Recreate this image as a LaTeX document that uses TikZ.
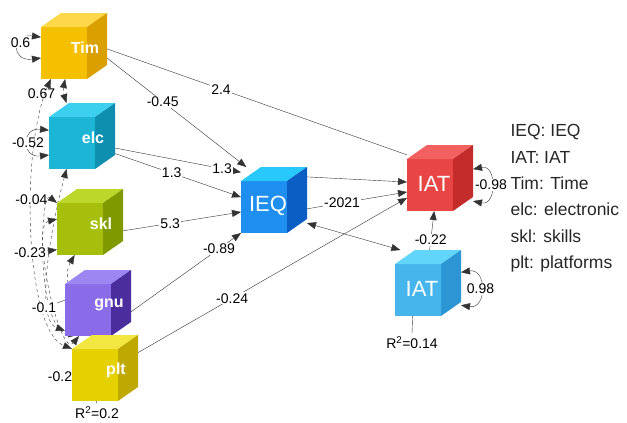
\documentclass[tikz,border=0pt]{standalone}
\usepackage{fontspec}
\setmainfont{Liberation Sans}
\usetikzlibrary{arrows.meta}

% cube colours: F = front, T = top, S = side
\definecolor{Ftim}{HTML}{F5C000}\definecolor{Ttim}{HTML}{FFD84A}\definecolor{Stim}{HTML}{D9A000}
\definecolor{Felc}{HTML}{1CB5D6}\definecolor{Telc}{HTML}{3DD0EE}\definecolor{Selc}{HTML}{0E8FB0}
\definecolor{Fskl}{HTML}{A6BF0C}\definecolor{Tskl}{HTML}{BCD62A}\definecolor{Sskl}{HTML}{7F9A00}
\definecolor{Fgnu}{HTML}{8A6CE8}\definecolor{Tgnu}{HTML}{9C86F2}\definecolor{Sgnu}{HTML}{4B2D9E}
\definecolor{Fplt}{HTML}{E5D000}\definecolor{Tplt}{HTML}{F2E640}\definecolor{Splt}{HTML}{BFA800}
\definecolor{Fieq}{HTML}{1E8EEF}\definecolor{Tieq}{HTML}{28C8FA}\definecolor{Sieq}{HTML}{0B5EC4}
\definecolor{Fiat}{HTML}{E84545}\definecolor{Tiat}{HTML}{F26060}\definecolor{Siat}{HTML}{C42B2B}
\definecolor{Fiatb}{HTML}{45B5EC}\definecolor{Tiatb}{HTML}{62D6FA}\definecolor{Siatb}{HTML}{2C96D4}

\begin{document}
\begin{tikzpicture}[x=1pt, y=1pt,
        font=\fontsize{14}{16}\selectfont,
        cube/.style={minimum width=66pt, minimum height=66pt, inner sep=0pt, outer sep=0pt},
        smalltext/.style={text=white, font=\fontsize{16}{18}\selectfont\bfseries},
        bigtext/.style={text=white, font=\fontsize{22}{24}\selectfont},
        reg/.style={-{Triangle[length=9pt,width=7pt]}, draw=black!80, thin},
        line/.style={draw=black!80, thin},
        cov/.style={{Triangle[length=9pt,width=7pt]}-{Triangle[length=9pt,width=7pt]}, draw=black!80, dashed, thin},
        var/.style={{Triangle[length=9pt,width=7pt]}-{Triangle[length=9pt,width=7pt]}, draw=black!80, thin},
        coef/.style={fill=white, inner sep=1pt}
    ]

    \useasboundingbox (0,0) rectangle (627,-423);

    % cube positions
    \foreach \n/\p in {tim/{74,-46}, elc/{82,-136}, skl/{90,-222}, gnu/{98,-303},
                       plt/{105,-368}, ieq/{274,-200}, iat/{440,-178}, iatb/{428,-283}}
        \node[cube] (\n) at (\p) {};

    % regressions
    \draw[reg] (tim.-20) -- node[coef,pos=0.4] {-0.45} (ieq.130);
    \draw[line] (tim.-5) -- node[coef,pos=0.38] {2.4} (iat.145);
    \draw[reg] (elc.-20) -- node[coef,pos=0.85] {1.3} (ieq.140);
    \draw[reg] (elc.-28) -- node[coef,pos=0.45] {1.3} (ieq.175);
    \draw[reg] (skl.-15) -- node[coef,pos=0.4] {5.3} (ieq.-160);
    \draw[reg] (gnu.-15) -- node[coef,pos=0.8] {-0.89} (ieq.-135);
    \draw[reg] (plt.25) -- node[coef,pos=0.35] {-0.24} (iat.-149);
    \draw[reg] (ieq.35) -- (iat.-173);
    \draw[reg] (ieq.-15) -- node[coef,pos=0.35] {-2021} (iat.-157);
    \draw[cov, solid] (ieq.-35) -- (iatb.130);
    \draw[reg] ([yshift=-14pt]iatb.north) -- node[coef,pos=0.45] {-0.22} (iat.-100);

    % variances
    \draw[var] (tim.165) .. controls +(-30,4) and +(-30,-4) .. node[coef,pos=0.35] {0.6} (tim.-160);
    \draw[var] (elc.170) .. controls +(-28,3) and +(-28,-3) .. node[coef,pos=0.5] {-0.52} (elc.-150);
    \draw[var] (iat.15) .. controls +(24,5) and +(24,-5) .. node[coef,pos=0.5] {-0.98} (iat.-35);
    \draw[var] (iatb.18) .. controls +(26,4) and +(26,-4) .. node[coef,pos=0.5] {0.98} (iatb.-34);

    % covariances
    \draw[cov] (tim.-105) to[bend right=15] node[coef,pos=0.6,left=8pt] {0.67} (elc.115);
    \draw[cov] (tim.-125) .. controls (20,-150) and (25,-330) .. node[coef,pos=0.4] {-0.04} (plt.150);
    \draw[cov] (elc.-115) .. controls (50,-230) and (35,-320) .. (gnu.-140);
    \draw[cov] (skl.150) .. controls (40,-190) and (35,-330) .. (plt.130);
    \draw[cov] (skl.175) .. controls (30,-225) and (60,-360) .. (gnu.-120);
    \draw[cov] (skl.-115) .. controls (60,-280) and (80,-320) .. (plt.115);

    % residual labels
    \node[coef] (sklvar) at (30,-253) {-0.23};
    \draw[reg, dashed] (sklvar) -- (skl.-140);
    \node[coef] (gnuvar) at (44,-308) {-0.1};
    \draw[line] (gnuvar) -- (gnu.175);
    \node[coef] (pltvar) at (60,-377) {-0.2};
    \node (pltr2) at (97,-413) {R\textsuperscript{2}=0.2};
    \draw[line] (plt.-105) -- (pltr2.north);
    \node (iatbr2) at (412,-343) {R\textsuperscript{2}=0.14};
    \draw[line] (iatb.-115) -- (iatbr2.north);

    % cube faces
    \foreach \n in {tim, elc, skl, gnu, plt, ieq, iat, iatb} {
        \fill[F\n] (\n.south west) rectangle ++(46,52);
        \fill[T\n] ([yshift=52pt]\n.south west) -- ([xshift=20pt]\n.north west)
            -- (\n.north east) -- ([xshift=46pt,yshift=52pt]\n.south west) -- cycle;
        \fill[S\n] ([xshift=46pt,yshift=52pt]\n.south west) -- (\n.north east)
            -- ([yshift=14pt]\n.south east) -- ([xshift=46pt]\n.south west) -- cycle;
    }

    % cube labels
    \foreach \n/\t in {tim/Tim, elc/elc, skl/skl, gnu/gnu, plt/plt}
        \node[smalltext] (\n-lab) at ([shift={(11,-2)}]\n.center) {\t};
    \node[bigtext] (ieq-lab) at ([shift={(-6,-6)}]ieq.center) {IEQ};
    \node[bigtext] (iat-lab) at ([shift={(-6,-6)}]iat.center) {IAT};
    \node[bigtext] (iatb-lab) at ([shift={(-6,-6)}]iatb.center) {IAT};

    % legend
    \node[anchor=north west, align=left, text=black!85,
          font=\fontsize{17.5}{26.4}\selectfont] (legend) at (507,-121)
        {IEQ: IEQ\\IAT: IAT\\Tim: Time\\elc: electronic\\skl: skills\\plt: platforms};

\end{tikzpicture}
\end{document}
